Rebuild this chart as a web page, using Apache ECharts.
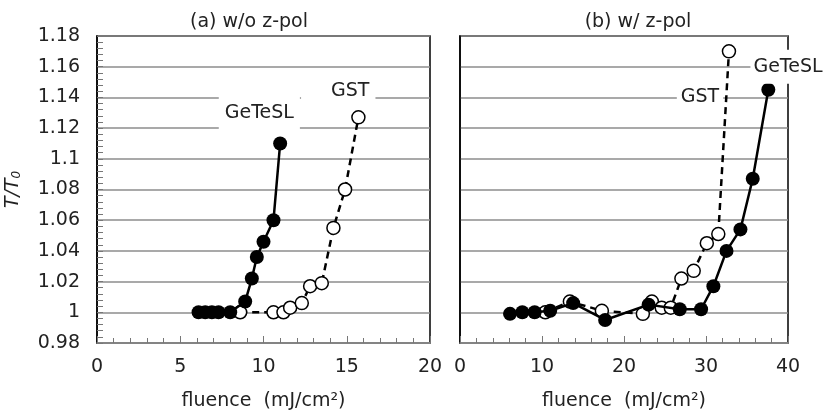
<!DOCTYPE html>
<html>
<head>
<meta charset="utf-8">
<script src="https://cdn.jsdelivr.net/npm/echarts@6/dist/echarts.min.js"></script>
<style>
  html, body { margin: 0; padding: 0; background: #fff; }
  #chart { width: 836px; height: 417px; }
</style>
</head>
<body>
<div id="chart"></div>
<script>
// (a) w/o z-pol
const aGeFluence = [6.1, 6.5, 6.9, 7.3, 8.0, 8.9, 9.3, 9.6, 10.0, 10.6, 11.0];
const aGeRatio   = [1.0, 1.0, 1.0, 1.0, 1.0, 1.007, 1.022, 1.036, 1.046, 1.06, 1.11];
const aGstFluence = [8.6, 10.6, 11.2, 11.6, 12.3, 12.8, 13.5, 14.2, 14.9, 15.7];
const aGstRatio   = [1.0, 1.0, 1.0, 1.003, 1.006, 1.017, 1.019, 1.055, 1.08, 1.127];
// (b) w/ z-pol
const bGeFluence = [6.1, 7.6, 9.1, 11.0, 13.8, 17.7, 23.0, 26.8, 29.4, 30.9, 32.5, 34.2, 35.7, 37.6];
const bGeRatio   = [0.999, 1.0, 1.0, 1.001, 1.006, 0.995, 1.005, 1.002, 1.002, 1.017, 1.04, 1.054, 1.087, 1.145];
const bGstFluence = [10.4, 13.4, 17.3, 22.3, 23.4, 24.6, 25.7, 27.0, 28.5, 30.1, 31.5, 32.8];
const bGstRatio   = [1.0, 1.007, 1.001, 0.999, 1.007, 1.003, 1.003, 1.022, 1.027, 1.045, 1.051, 1.17];

const titles = ['(a) w/o z-pol', '(b) w/ z-pol'];
const xMax = [20, 40];
const xStep = [5, 10];
const yMin = 0.98, yMax = 1.18, yStep = 0.02;

const FONT = 'DejaVu Sans';
const zip = (xs, ys) => xs.map((x, i) => [x, ys[i]]);

function tag(text, coord, padding) {
    return {
        coord: coord,
        symbol: 'rect',
        symbolSize: 0,
        label: {
            show: true,
            position: 'inside',
            formatter: text,
            color: '#222',
            fontFamily: FONT,
            fontSize: 19,
            lineHeight: 20,
            backgroundColor: '#fff',
            padding: padding
        }
    };
}

function geSeries(idx, data, mark) {
    return {
        type: 'line',
        xAxisIndex: idx, yAxisIndex: idx,
        data: data,
        symbol: 'circle',
        symbolSize: 14,
        itemStyle: { color: '#000' },
        lineStyle: { color: '#000', width: 2.5 },
        z: 4,
        animation: false,
        markPoint: { silent: true, z: 10, data: [mark] }
    };
}

function gstSeries(idx, data, mark) {
    return {
        type: 'line',
        xAxisIndex: idx, yAxisIndex: idx,
        data: data,
        symbol: 'circle',
        symbolSize: 13,
        itemStyle: { color: '#fff', borderColor: '#000', borderWidth: 1.5 },
        lineStyle: { color: '#000', width: 2.5, type: [7, 5] },
        z: 3,
        animation: false,
        markPoint: { silent: true, z: 10, data: [mark] }
    };
}

const chart = echarts.init(document.getElementById('chart'));

const xAxes = [0, 1].map(i => ({
    type: 'value',
    gridIndex: i,
    min: 0, max: xMax[i], interval: xStep[i],
    name: 'fluence  (mJ/cm²)',
    nameLocation: 'middle',
    nameGap: 49,
    nameTextStyle: { color: '#222', fontFamily: FONT, fontSize: 19 },
    axisLine: { lineStyle: { color: '#888', width: 1.5 } },
    axisTick: { inside: true, length: 7, lineStyle: { color: '#777' } },
    minorTick: { show: true, splitNumber: 5, length: 5, lineStyle: { color: '#777' } },
    splitLine: { show: false },
    axisLabel: { color: '#222', fontFamily: FONT, fontSize: 19, margin: 15 }
}));

const yAxes = [0, 1].map(i => ({
    type: 'value',
    gridIndex: i,
    min: yMin, max: yMax, interval: yStep,
    name: i === 0 ? 'T/T{s|0}' : '',
    nameLocation: 'middle',
    nameRotate: 90,
    nameGap: 74,
    nameTextStyle: {
        color: '#222', fontFamily: FONT, fontSize: 19, fontStyle: 'italic',
        rich: { s: { fontFamily: FONT, fontSize: 12, fontStyle: 'italic', padding: [8, 0, 0, 0] } }
    },
    axisLine: { show: true, lineStyle: { color: '#000', width: 1.5 } },
    axisTick: { show: i === 0, inside: true, length: 6, lineStyle: { color: '#777' } },
    minorTick: { show: i === 0, splitNumber: 5, length: 6, lineStyle: { color: '#777' } },
    splitLine: { show: true, lineStyle: { color: '#8c8c8c', width: 1.5 } },
    axisLabel: {
        show: i === 0,
        color: '#222', fontFamily: FONT, fontSize: 19, margin: 17,
        formatter: v => String(parseFloat(v.toFixed(2)))
    }
}));

chart.setOption({
    animation: false,
    backgroundColor: '#fff',
    title: [
        { text: titles[0], left: 244, top: 8, textAlign: 'center',
          textStyle: { color: '#222', fontFamily: FONT, fontSize: 19, fontWeight: 'normal' } },
        { text: titles[1], left: 633, top: 8, textAlign: 'center',
          textStyle: { color: '#222', fontFamily: FONT, fontSize: 19, fontWeight: 'normal' } }
    ],
    grid: [
        { left: 97, top: 36, width: 333, height: 307, show: true, borderColor: '#000', borderWidth: 1.5 },
        { left: 460, top: 36, width: 328, height: 307, show: true, borderColor: '#000', borderWidth: 1.5 }
    ],
    xAxis: xAxes,
    yAxis: yAxes,
    series: [
        gstSeries(0, zip(aGstFluence, aGstRatio), tag('GST', [14.49, 1.144], [5, 6, 5, 30])),
        geSeries(0, zip(aGeFluence, aGeRatio), tag('GeTeSL', [9.75, 1.1295], [9, 6])),
        gstSeries(1, zip(bGstFluence, bGstRatio), tag('GST', [29.27, 1.14], [3, 4])),
        geSeries(1, zip(bGeFluence, bGeRatio), tag('GeTeSL', [40.0, 1.16], [7, 3]))
    ]
});
</script>
</body>
</html>
